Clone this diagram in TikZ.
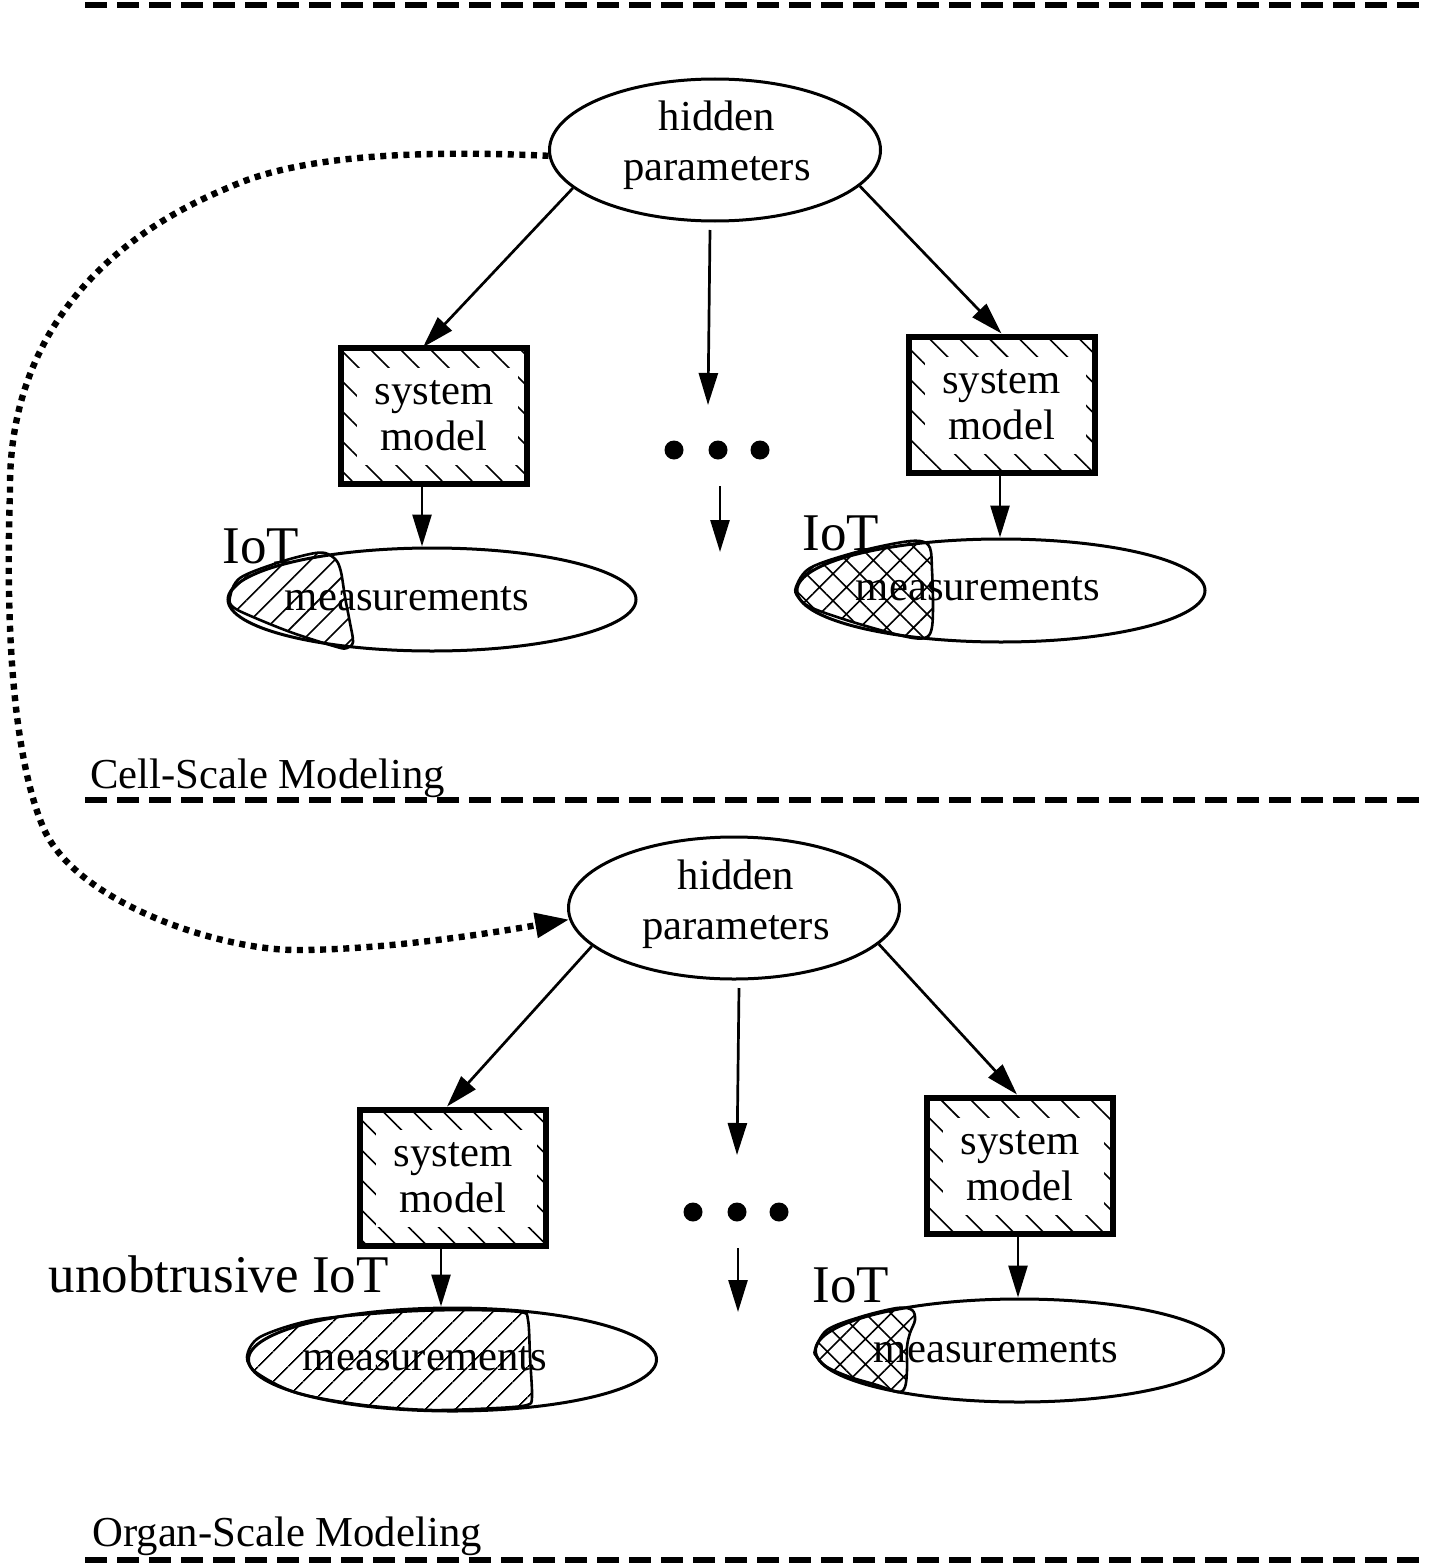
\documentclass[tikz,border=0pt]{standalone}
\usepackage{fontspec}
\setmainfont{Liberation Serif}
\usetikzlibrary{arrows.meta,patterns.meta,shapes.geometric,calc}
\tikzset{
  hpell/.style={ellipse, draw, line width=1.5pt, minimum width=165.5pt, minimum height=71pt, inner sep=0pt},
  smbox/.style={rectangle, draw, line width=3pt, minimum width=93pt, minimum height=68pt, inner sep=0pt,
    align=center, font=\fontsize{21.35}{23}\selectfont,
    pattern={Lines[angle=-45,distance=10.6pt,line width=0.8pt]},
    path picture={\fill[white] ($(path picture bounding box.north west)+(16,20)$) rectangle ($(path picture bounding box.south east)+(-9,-19)$);}},
  meas/.style={ellipse, draw, line width=1.5pt, minimum width=204pt, minimum height=51.5pt, inner sep=0pt},
  txt/.style={font=\fontsize{21.35}{25}\selectfont, inner sep=0pt, align=center},
  mtxt/.style={font=\fontsize{21.35}{25}\selectfont, inner sep=0pt, anchor=base},
  iot/.style={font=\fontsize{26.5}{30}\selectfont, inner sep=0pt},
  secl/.style={font=\fontsize{21.35}{25}\selectfont, inner sep=0pt, anchor=base west},
  arr/.style={line width=1.35pt, -{Triangle[length=16pt,width=9.5pt]}},
  sepline/.style={line width=2.75pt, dash pattern=on 11pt off 5pt},
  dotline/.style={line width=3.2pt, dash pattern=on 3pt off 2.8pt, -{Triangle[length=17pt,width=12pt]}},
  dotn/.style={circle, fill=black, minimum size=9.5pt, inner sep=0pt},
  blobL/.style={draw, line width=1.3pt, pattern={Lines[angle=45,distance=#1,line width=0.8pt]}},
  blobX/.style={draw, line width=1.3pt, pattern={Hatch[angle=45,distance=#1,line width=0.8pt]}},
}
\begin{document}
\begin{tikzpicture}[x=0.5pt,y=-0.5pt]
\useasboundingbox (0,0) rectangle (1429,1568);

% separators
\draw[sepline] (85,5) -- (1429,5);
\draw[sepline] (85,800) -- (1429,800);
\draw[sepline] (85,1560) -- (1429,1560);
\node[secl] (cell) at (90,788) {Cell-Scale Modeling};
\node[secl] (organ) at (92,1546) {Organ-Scale Modeling};

% ---------------- top section ----------------
\node[hpell] (hp1) at (715,150) {};
\node[txt] (hp1t) at (717,145) {hidden\\parameters};

\node[smbox] (sm1) at (434,416) {system\\model};
\node[smbox] (sm2) at (1001.5,404.5) {system\\model};

\node[meas] (me1) at (432,599.5) {};
\node[meas] (me2) at (1001,590.5) {};

\draw[blobL=8.5pt] plot[smooth cycle, tension=0.55] coordinates {(230,597) (240,578) (277,563) (310,554) (325,553) (336,560) (341,572) (345,597) (350,623) (353,642) (347,648) (337,647) (293,633) (253,617) (233,607)};
\draw[blobX=9.5pt] plot[smooth cycle, tension=0.55] coordinates {(796,587) (810,568) (853,553) (897,543) (920,541) (930,548) (932,570) (933,603) (932,627) (927,637) (913,638) (880,630) (840,618) (810,607) (798,597)};

\node[mtxt] (me1t) at (407,610) {measurements};
\node[mtxt] (me2t) at (978,600) {measurements};
\node[iot, anchor=base west] (iot1) at (222,563) {IoT};
\node[iot, anchor=base west] (iot2) at (802,550) {IoT};

\draw[arr] (hp1.195) -- ([xshift=-5.5pt]sm1.north);
\draw[arr] (hp1.346) -- (sm2.north);
\coordinate (ma1s) at (710,230);
\coordinate (ma1e) at (708,405);
\draw[arr] (ma1s) -- (ma1e);
\node[dotn] (d1) at (674,450) {};
\node[dotn] (d2) at (718,450) {};
\node[dotn] (d3) at (760,450) {};
\coordinate (mb1s) at (720,486);
\coordinate (mb1e) at (720,552);
\draw[arr] (mb1s) -- (mb1e);
\draw[arr] ([xshift=-6pt]sm1.south) -- ([xshift=-6pt]sm1.south |- me1.north);
\draw[arr] ([xshift=-0.75pt]sm2.south) -- ([xshift=-0.75pt]sm2.south |- me2.north);

% ---------------- bottom section ----------------
\node[hpell] (hp2) at (734,908) {};
\node[txt] (hp2t) at (736,904) {hidden\\parameters};

\node[smbox] (sm3) at (453,1177.5) {system\\model};
\node[smbox] (sm4) at (1020,1165.5) {system\\model};

\node[meas] (me3) at (452.5,1359.5) {};
\node[meas] (me4) at (1019.5,1350.5) {};

\draw[blobL=10.5pt] plot[smooth cycle, tension=0.5] coordinates {(247,1357) (260,1337) (313,1320) (397,1312) (463,1310) (520,1312) (528,1320) (530,1357) (532,1397) (527,1405) (497,1408) (430,1410) (363,1405) (297,1393) (257,1373)};
\draw[blobX=9pt] plot[smooth cycle, tension=0.55] coordinates {(815,1350) (827,1330) (860,1317) (897,1308) (912,1310) (915,1320) (910,1333) (907,1347) (907,1370) (905,1387) (898,1392) (877,1385) (850,1377) (827,1367) (817,1357)};

\node[mtxt] (me3t) at (425,1370) {measurements};
\node[mtxt] (me4t) at (996,1362) {measurements};
\node[iot, anchor=base east] (iot3) at (389,1292) {unobtrusive IoT};
\node[iot, anchor=base west] (iot4) at (812,1302) {IoT};

\draw[arr] (hp2.195) -- ([xshift=-3pt]sm3.north);
\draw[arr] (hp2.346) -- ([xshift=-1.5pt]sm4.north);
\coordinate (ma2s) at (739,988);
\coordinate (ma2e) at (737,1155);
\draw[arr] (ma2s) -- (ma2e);
\node[dotn] (d4) at (693,1212) {};
\node[dotn] (d5) at (737,1212) {};
\node[dotn] (d6) at (779,1212) {};
\coordinate (mb2s) at (738,1248);
\coordinate (mb2e) at (738,1312);
\draw[arr] (mb2s) -- (mb2e);
\draw[arr] ([xshift=-6pt]sm3.south) -- ([xshift=-6pt]sm3.south |- me3.north);
\draw[arr] ([xshift=-1pt]sm4.south) -- ([xshift=-1pt]sm4.south |- me4.north);

% dotted connector between the two hidden-parameter nodes
\draw[dotline] (hp1.182) .. controls (420,150) and (300,155) .. (230,187)
  .. controls (100,240) and (8,340) .. (10,492)
  .. controls (5,640) and (15,760) .. (43,827)
  .. controls (75,903) and (220,950) .. (296,950)
  .. controls (380,950) and (480,935) .. (hp2.184);
\end{tikzpicture}
\end{document}
